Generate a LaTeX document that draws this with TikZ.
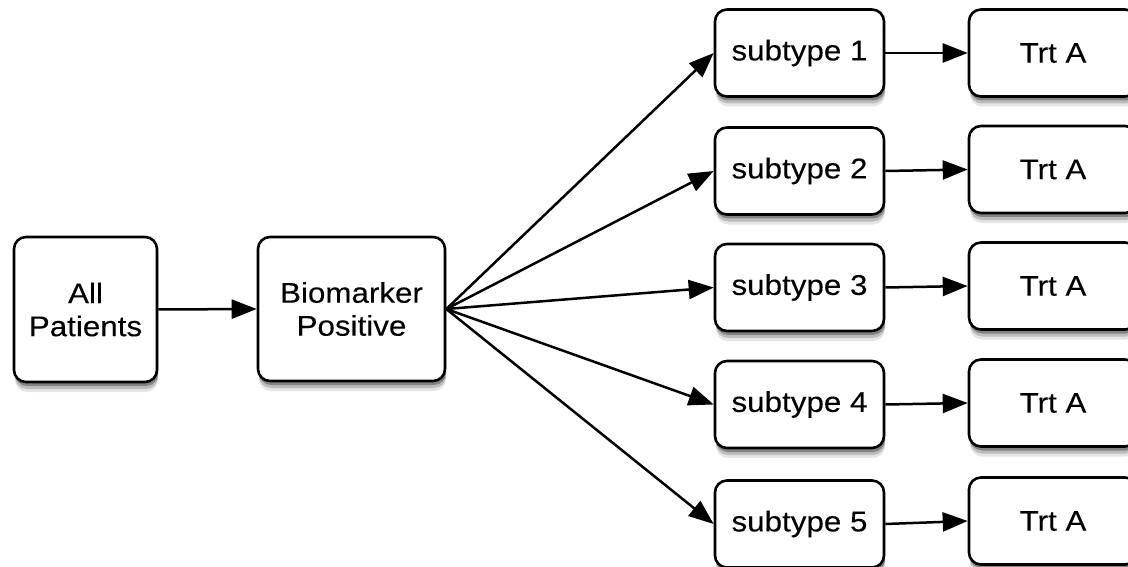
\documentclass[tikz,border=0pt]{standalone}
\usepackage{fontspec}
\setmainfont[FakeStretch=1.1,FakeBold=0.15]{Liberation Sans}
\usetikzlibrary{arrows.meta,shadows}
\begin{document}
\begin{tikzpicture}[x=1pt,y=-1pt,
  box/.style={draw=black, line width=2.6pt, rounded corners=12pt, fill=white,
    align=center, inner sep=0pt, font=\fontsize{28.5}{33}\selectfont,
    drop shadow={shadow xshift=1pt, shadow yshift=-10pt, opacity=0.10, fill=black},
    drop shadow={shadow xshift=1pt, shadow yshift=-7pt, opacity=0.18, fill=black},
    drop shadow={shadow xshift=1pt, shadow yshift=-4pt, opacity=0.30, fill=black}},
  sub/.style={box, minimum width=169pt, minimum height=87pt},
  trt/.style={box, minimum width=168pt, minimum height=87pt},
  link/.style={line width=2.5pt, -{Triangle[length=25pt,width=19pt]}}]
\useasboundingbox (0,0) rectangle (1128,567);
\clip (0,0) rectangle (1128,567);
\node[box, minimum width=143pt, minimum height=145pt] (all) at (85.5,309.5) {All\\Patients};
\node[box, minimum width=187pt, minimum height=144pt] (bio) at (351.5,309) {Biomarker\\Positive};
\node[sub] (s1) at (799.5,53) {subtype 1};
\node[sub] (s2) at (799.5,171) {subtype 2};
\node[sub] (s3) at (799.5,287.5) {subtype 3};
\node[sub] (s4) at (799.5,404.5) {subtype 4};
\node[sub] (s5) at (799.5,524) {subtype 5};
\node[trt] (t1) at (1053,53) {Trt A};
\node[trt] (t2) at (1053,169.5) {Trt A};
\node[trt] (t3) at (1053,286) {Trt A};
\node[trt] (t4) at (1053,403) {Trt A};
\node[trt] (t5) at (1053,521) {Trt A};
\draw[link] (all.east) -- (bio.west);
\foreach \i in {1,...,5}{
  \draw[link] (bio.east) -- (s\i.west);
  \draw[link] (s\i.east) -- (t\i.west);
}
\end{tikzpicture}
\end{document}
